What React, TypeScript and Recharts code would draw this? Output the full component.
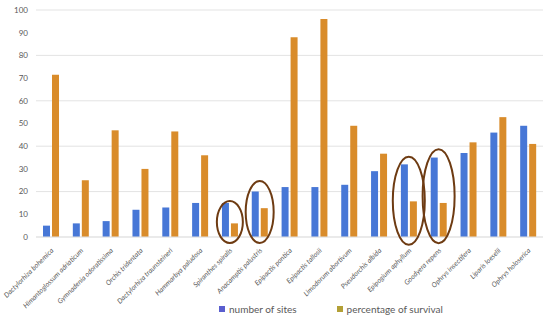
import React from "react";
import { BarChart, Bar, XAxis, YAxis, CartesianGrid, Legend, ReferenceDot } from "recharts";

const species = [
  "Dactylorhiza bohemica",
  "Himantoglossum adriaticum",
  "Gymnadenia odoratissima",
  "Orchis tridentata",
  "Dactylorhiza traunsteineri",
  "Hammarbya paludosa",
  "Spiranthes spiralis",
  "Anacamptis palustris",
  "Epipactis pontica",
  "Epipactis tallosii",
  "Limodorum abortivum",
  "Pseudorchis albida",
  "Epipogium aphyllum",
  "Goodyera repens",
  "Ophrys insectifera",
  "Liparis loeselii",
  "Ophrys holoserica",
];

const numberOfSites = [5, 6, 7, 12, 13, 15, 15, 20, 22, 22, 23, 29, 32, 35, 37, 46, 49];
const survival = [71.5, 25, 47, 30, 46.5, 36, 6, 12.7, 88, 96, 49, 36.7, 15.7, 15, 41.7, 52.8, 41];

const yTicks = [0, 10, 20, 30, 40, 50, 60, 70, 80, 90, 100];

// circled species in the figure: [name, centre value, ry, rx]
const circled: [string, number, number, number][] = [
  ["Spiranthes spiralis", 6.6, 21, 13],
  ["Anacamptis palustris", 11, 31, 14],
  ["Epipogium aphyllum", 16, 44, 16],
  ["Goodyera repens", 18, 47, 16],
];

const data = species.map((name, i) => ({
  name,
  sites: numberOfSites[i],
  survival: survival[i],
}));

const BLUE = "#4777d6";
const ORANGE = "#d98c2b";
const font = "Lato, 'Open Sans', sans-serif";

const SpeciesTick = (props: any) => {
  const { x, y, payload } = props;
  return (
    <g transform={`translate(${x + 3},${y + 6})`}>
      <text
        textAnchor="end"
        transform="rotate(-45)"
        fontSize={7}
        fontStyle="italic"
        fill="#595959"
        fontFamily={font}
      >
        {payload.value}
      </text>
    </g>
  );
};

const renderLegend = () => (
  <div
    style={{
      display: "flex",
      gap: 40,
      fontSize: 10,
      color: "#595959",
      fontFamily: font,
      marginLeft: 219,
    }}
  >
    <span style={{ display: "flex", alignItems: "center" }}>
      <span style={{ width: 6, height: 6, background: "#5a5ecf", marginRight: 4 }} />
      number of sites
    </span>
    <span style={{ display: "flex", alignItems: "center" }}>
      <span style={{ width: 6, height: 6, background: "#b3a036", marginRight: 4 }} />
      percentage of survival
    </span>
  </div>
);

const App = () => {
  return (
    <div style={{ position: "absolute", left: 0, top: 0, background: "#fff" }}>
      <BarChart
        width={550}
        height={320}
        data={data}
        margin={{ top: 10, right: 7, left: 0, bottom: 0 }}
        barSize={7}
        barGap={2}
      >
        <CartesianGrid vertical={false} stroke="#e3e3e3" />
        <XAxis
          dataKey="name"
          interval={0}
          tick={<SpeciesTick />}
          tickLine={false}
          axisLine={{ stroke: "#e3e3e3" }}
          height={71}
        />
        <YAxis
          domain={[0, 100]}
          ticks={yTicks}
          width={36}
          axisLine={false}
          tickLine={false}
          tick={{ fontSize: 8, fill: "#595959", fontFamily: font }}
        />
        <Legend
          content={renderLegend}
          wrapperStyle={{ position: "absolute", top: 303, left: 0, width: 550 }}
        />
        <Bar dataKey="sites" name="number of sites" fill={BLUE} isAnimationActive={false} />
        <Bar dataKey="survival" name="percentage of survival" fill={ORANGE} isAnimationActive={false} />
        {circled.map(([name, v, ry, rx]) => (
          <ReferenceDot
            key={name}
            x={name}
            y={v}
            ifOverflow="visible"
            shape={(p: any) => (
              <ellipse
                cx={p.cx}
                cy={p.cy}
                rx={rx}
                ry={ry}
                fill="none"
                stroke="#6e3b12"
                strokeWidth={2}
              />
            )}
          />
        ))}
      </BarChart>
    </div>
  );
};

export default App;
